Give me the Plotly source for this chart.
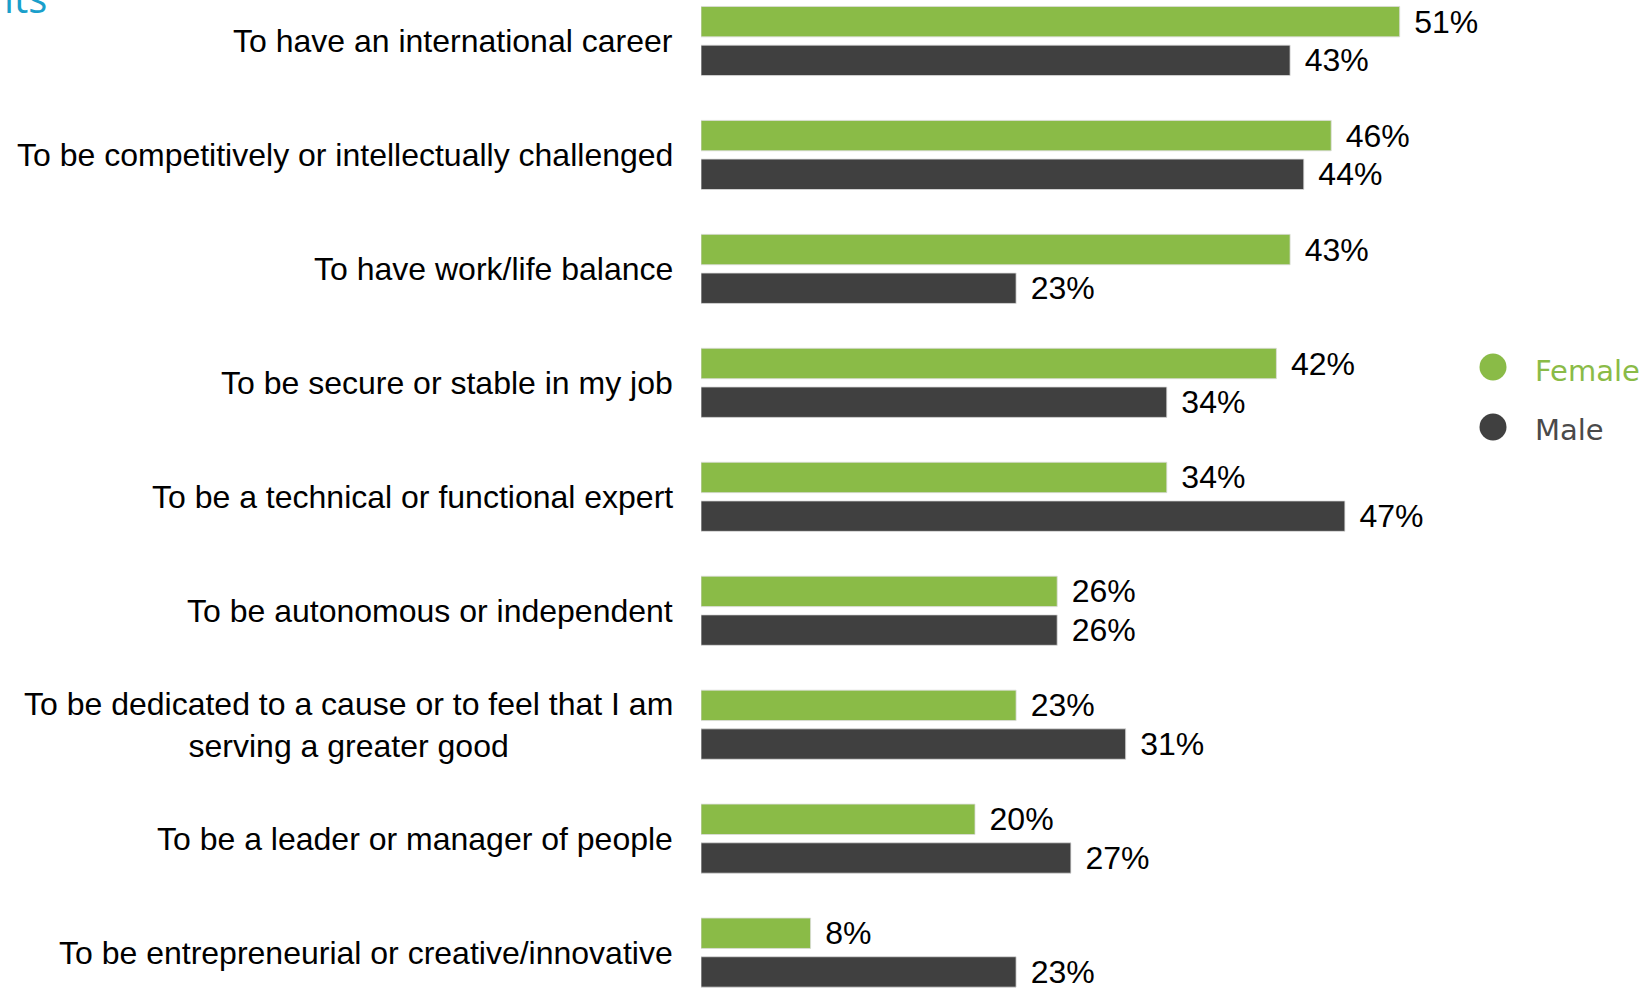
import plotly.graph_objects as go

categories = [
    "To have an international career",
    "To be competitively or intellectually challenged",
    "To have work/life balance",
    "To be secure or stable in my job",
    "To be a technical or functional expert",
    "To be autonomous or independent",
    "To be dedicated to a cause or to feel that I am<br>serving a greater good",
    "To be a leader or manager of people",
    "To be entrepreneurial or creative/innovative",
]
female = [51, 46, 43, 42, 34, 26, 23, 20, 8]
male = [43, 44, 23, 34, 47, 26, 31, 27, 23]
series_names = ["Female", "Male"]
title_fragment = "its"

GREEN = "#8ABB47"
DARK = "#404040"
W, H = 1645, 991
L = 701  # left margin (px)
PLOT_W = W - L
PX_PER_PCT = 13.7
PITCH = 113.95
FIRST_C = 41.0

pos = list(range(len(categories)))

fig = go.Figure()
for name, vals, col in [(series_names[0], female, GREEN), (series_names[1], male, DARK)]:
    fig.add_trace(go.Bar(
        y=pos, x=vals, name=name, orientation="h",
        marker=dict(color=col, line=dict(width=1, color="rgba(220,220,220,0.8)")),
        texttemplate="\u00a0\u200a%{x}%", textposition="outside",
        textfont=dict(family="Liberation Sans, Arial", size=32, color="#000000"),
        constraintext="none", cliponaxis=False, showlegend=False,
    ))

annotations = []
for i, cat in enumerate(categories):
    annotations.append(dict(
        x=0, xref="paper", xanchor="right", xshift=-26,
        y=pos[i], yref="y", yanchor="middle",
        text=cat, showarrow=False, align="center",
        font=dict(family="Liberation Sans, Arial", size=32, color="#000000"),
    ))

def px_x(px):
    return (px - L) / PLOT_W

def px_y(py):
    return 1 - py / H

shapes = []
legend_items = [(series_names[0], GREEN, GREEN, 367, 371), (series_names[1], DARK, "#4a4a4a", 427, 430)]
for name, col, tcol, cy, ty in legend_items:
    shapes.append(dict(
        type="circle", xref="paper", yref="paper",
        xsizemode="pixel", ysizemode="pixel",
        xanchor=px_x(1493), yanchor=px_y(cy),
        x0=-13.5, x1=13.5, y0=-13.5, y1=13.5,
        fillcolor=col, line=dict(width=0),
    ))
    annotations.append(dict(
        x=px_x(1533), xref="paper", xanchor="left",
        y=px_y(ty), yref="paper", yanchor="middle",
        text=name, showarrow=False,
        font=dict(family="DejaVu Sans", size=29, color=tcol),
    ))

annotations.append(dict(
    x=px_x(2), xref="paper", xanchor="left",
    y=px_y(27), yref="paper", yanchor="bottom",
    text=title_fragment, showarrow=False,
    font=dict(family="Open Sans", size=40, color="#1A9FCB"),
))

y_top = -FIRST_C / PITCH
y_bot = (H - FIRST_C) / PITCH

fig.update_layout(
    width=W, height=H,
    margin=dict(l=L, r=0, t=0, b=0),
    paper_bgcolor="white", plot_bgcolor="white",
    barmode="group", bargap=0.321, bargroupgap=0.214,
    xaxis=dict(range=[0, PLOT_W / PX_PER_PCT], visible=False),
    yaxis=dict(range=[y_bot, y_top], visible=False),
    annotations=annotations, shapes=shapes,
    showlegend=False,
)

fig.write_html("out.html", config={"displayModeBar": False},
               post_script="document.body.style.margin='0';")
